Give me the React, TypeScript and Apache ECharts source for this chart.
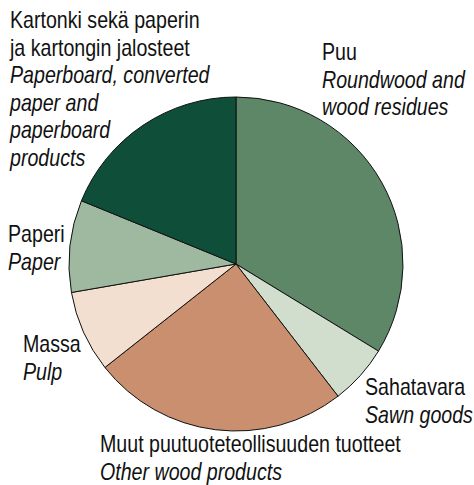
import React, { useEffect, useRef } from "react";
import * as echarts from "echarts";

const namesFi = ["Puu", "Sahatavara", "Muut puutuoteteollisuuden tuotteet", "Massa", "Paperi", "Kartonki sekä paperin\nja kartongin jalosteet"];
const namesEn = ["Roundwood and\nwood residues", "Sawn goods", "Other wood products", "Pulp", "Paper", "Paperboard, converted\npaper and\npaperboard\nproducts"];
const shares = [33.7, 5.8, 24.8, 7.9, 8.9, 18.8];
const colors = ["#5d8767", "#d1ddcd", "#c98f6e", "#f3dfcf", "#9eb9a0", "#0f4f39"];
const labelPos = [
  [322, 39],
  [365, 374],
  [100, 431],
  [23, 331],
  [8, 221],
  [10, 7],
];

export default function App() {
  const ref = useRef<HTMLDivElement>(null);
  useEffect(() => {
    document.body.style.margin = "0";
    const chart = echarts.init(ref.current!, null, { renderer: "svg" });
    const font = "'Liberation Sans', Arial, sans-serif";
    const rich = {
      a: { fontFamily: font, fontSize: 23, lineHeight: 27.5, fill: "#111", color: "#111" },
      b: { fontFamily: font, fontSize: 23, lineHeight: 27.5, fontStyle: "italic", fill: "#111", color: "#111" },
    };
    chart.setOption({
      animation: false,
      backgroundColor: "#ffffff",
      graphic: namesFi.map((n, i) => ({
        type: "text",
        x: labelPos[i][0],
        y: labelPos[i][1],
        scaleX: 0.853,
        z: 10,
        style: {
          text: `{a|${n}}\n{b|${namesEn[i]}}`,
          rich,
          fontFamily: font,
          fontSize: 23,
          lineHeight: 27.5,
          fill: "#111",
          align: "left",
          verticalAlign: "top",
        },
      })),
      series: [
        {
          type: "pie",
          center: [236, 264],
          radius: 167,
          startAngle: 90,
          clockwise: true,
          itemStyle: { borderColor: "#111", borderWidth: 1 },
          label: { show: false },
          labelLine: { show: false },
          data: shares.map((v, i) => ({ value: v, name: namesFi[i].replace("\n", " "), itemStyle: { color: colors[i] } })),
        },
      ],
    });
    return () => chart.dispose();
  }, []);
  return <div ref={ref} style={{ width: 474, height: 485 }} />;
}
